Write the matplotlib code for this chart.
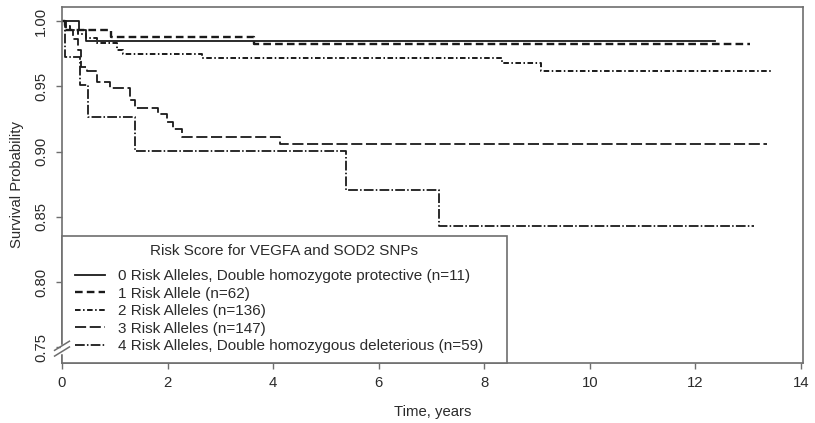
import matplotlib
matplotlib.use("Agg")
import matplotlib.pyplot as plt
from matplotlib.patches import Rectangle
from matplotlib.lines import Line2D

plt.rcParams['font.family'] = ['Liberation Sans', 'DejaVu Sans']
plt.rcParams['lines.scale_dashes'] = False

# ---- data ----
group_labels = [
    "0 Risk Alleles, Double homozygote protective (n=11)",
    "1 Risk Allele (n=62)",
    "2 Risk Alleles (n=136)",
    "3 Risk Alleles (n=147)",
    "4 Risk Alleles, Double homozygous deleterious (n=59)",
]
legend_title = "Risk Score for VEGFA and SOD2 SNPs"

t0 = [0, 0.32, 0.45, 12.38]
s0 = [1.0, 0.993, 0.9845, 0.9845]

t1 = [0, 0.05, 0.92, 3.64, 13.03]
s1 = [1.0, 0.993, 0.988, 0.9825, 0.9825]

t2 = [0, 0.05, 0.15, 0.3, 0.45, 0.66, 1.04, 1.15, 2.65, 8.33, 9.08, 13.44]
s2 = [1.0, 0.996, 0.993, 0.99, 0.987, 0.983, 0.978, 0.975, 0.9717, 0.968, 0.962, 0.962]

t3 = [0, 0.08, 0.2, 0.3, 0.36, 0.48, 0.66, 0.91, 1.29, 1.39, 1.82, 1.98, 2.11, 2.27, 4.13, 13.35]
s3 = [1.0, 0.993, 0.986, 0.978, 0.965, 0.9614, 0.9536, 0.9485, 0.9395, 0.933, 0.929, 0.9227,
      0.9176, 0.911, 0.906, 0.906]

t4 = [0, 0.05, 0.34, 0.5, 1.38, 5.39, 7.15, 13.12]
s4 = [1.0, 0.9727, 0.951, 0.9266, 0.9003, 0.8707, 0.843, 0.843]

x_ticks = [0, 2, 4, 6, 8, 10, 12, 14]
y_ticks = [0.75, 0.80, 0.85, 0.90, 0.95, 1.00]

# ---- styles ----
line_color = "#1a1a1a"
styles = [
    dict(linestyle="-", lw=1.3),
    dict(linestyle=(0, (5.5, 3.0)), lw=1.7),
    dict(linestyle=(0, (4.0, 1.8, 1.1, 1.8)), lw=1.4),
    dict(linestyle=(0, (8.0, 2.6)), lw=1.3),
    dict(linestyle=(0, (7.0, 1.6, 1.1, 1.6)), lw=1.3),
]
spine_color = "#6e6e6e"
text_color = "#2b2b2b"
fs_axis = 10.7
fs_leg = 11

fig = plt.figure(figsize=(8.15, 4.23), dpi=100)
ax = fig.add_axes([62 / 815, 1 - 363 / 423, (803 - 62) / 815, (363 - 6.7) / 423])

series = [(t0, s0), (t1, s1), (t2, s2), (t3, s3), (t4, s4)]
for (t, s), st in zip(series, styles):
    ax.step(t, s, where="post", color=line_color, **st)

ax.set_xlim(0, 14.04)
ax.set_ylim(0.738, 1.011)
ax.set_xticks(x_ticks)
ax.set_xticklabels([str(v) for v in x_ticks], fontsize=fs_axis, color=text_color)
ax.set_yticks(y_ticks)
ax.set_yticklabels([f"{v:.2f}" for v in y_ticks], fontsize=fs_axis, color=text_color,
                   rotation=90, va="center")
ax.tick_params(axis="both", direction="out", length=4, width=1.0, color=spine_color)
ax.tick_params(axis="x", pad=5.5)
ax.tick_params(axis="y", pad=6)
for sp in ax.spines.values():
    sp.set_color(spine_color)
    sp.set_linewidth(1.2)

ax.set_xlabel("Time, years", fontsize=fs_axis, color=text_color, labelpad=11)
ax.set_ylabel("Survival Probability", fontsize=fs_axis, color=text_color, labelpad=7)

# axis break marks on the left spine near 0.75
ax.plot([0, 0], [0.7468, 0.7512], transform=ax.get_yaxis_transform(), color="white",
        lw=2.5, clip_on=False, zorder=5)
for yb in (0.7468, 0.7512):
    ax.plot([-0.010, 0.010], [yb - 0.0035, yb + 0.0035], transform=ax.get_yaxis_transform(),
            color=spine_color, lw=1.1, clip_on=False, zorder=6)

# legend box
box_right = 8.43
box_top = 0.8352
ax.add_patch(Rectangle((0, 0.738), box_right, box_top - 0.738, facecolor="white",
                       edgecolor=spine_color, lw=1.2, zorder=4, clip_on=False))
ax.text(box_right / 2, 0.8235, legend_title, ha="center", va="center", fontsize=fs_leg,
        color=text_color, zorder=6)
handles = [Line2D([0], [0], color=line_color, **st) for st in styles]
leg = ax.legend(handles, group_labels, loc="upper left", bbox_to_anchor=(0.0175, 0.263),
                frameon=False, fontsize=fs_leg, handlelength=1.96, handletextpad=0.85,
                labelspacing=0.23, borderpad=0, borderaxespad=0)
for txt in leg.get_texts():
    txt.set_color(text_color)
leg.set_zorder(7)

fig.savefig("out.png", dpi=100)
